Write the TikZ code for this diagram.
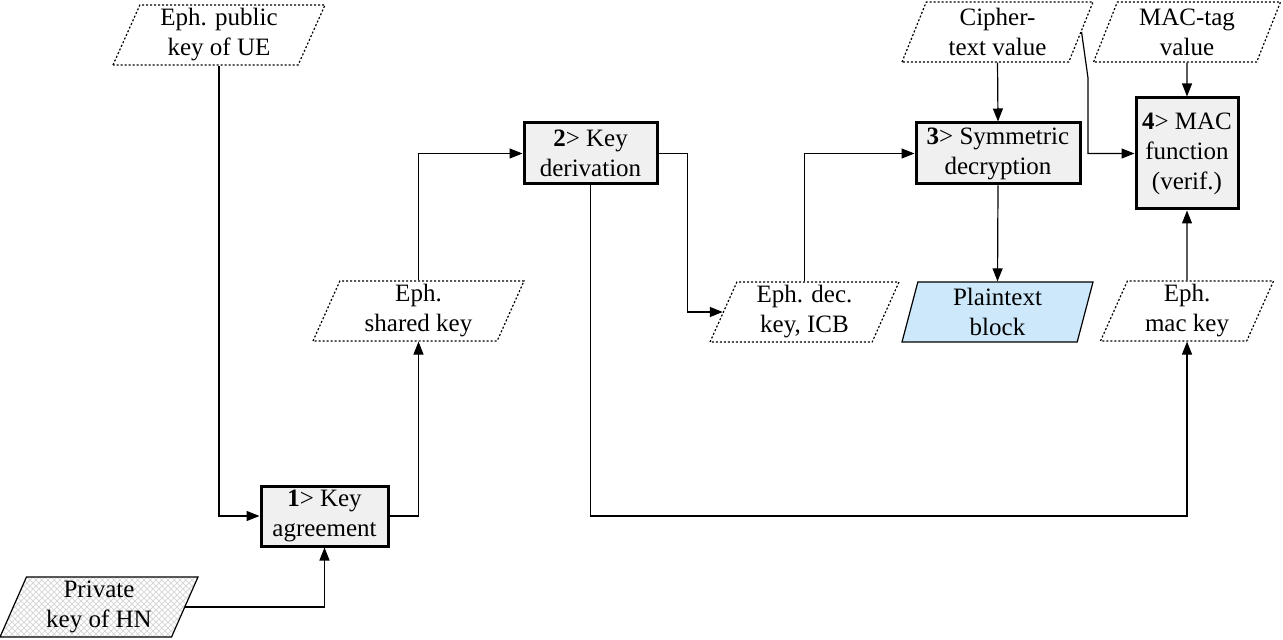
\documentclass[tikz,border=0pt]{standalone}
\usepackage{fontspec}
\setmainfont{Liberation Serif}
\usetikzlibrary{arrows.meta,shapes.geometric,patterns}
\definecolor{stepfill}{HTML}{F0F0F0}
\definecolor{plainblue}{HTML}{CCE8FA}

\begin{document}
\begin{tikzpicture}[
        x=0.5pt, y=-0.5pt,
        every node/.style={
            align=center,
            inner sep=0pt,
            font=\fontsize{12.5}{15}\selectfont
        },
        stepbox/.style={
            draw,
            line width=1.5pt,
            fill=stepfill
        },
        data/.style={
            trapezium,
            trapezium left angle=63,
            trapezium right angle=117,
            trapezium stretches body,
            minimum height=30pt,
            draw,
            line width=0.6pt,
            dash pattern=on 1pt off 1pt
        },
        line/.style={-{Triangle[length=6.5pt,width=5pt]}, line width=0.6pt}
    ]

        \useasboundingbox (0,0) rectangle (1283,640);

        % vstupy
        \node[data, minimum width=106pt] (pub) at (219,35) {Eph. public\\ key of UE};
        \node[data, minimum width=99pt, solid,
              preaction={fill=white},
              preaction={pattern=north east lines, pattern color=black!15},
              preaction={pattern=north west lines, pattern color=black!15}]
              (priv) at (99,607) {Private\\ key of HN};
        \node[data, minimum width=95.5pt] (cipher) at (997.5,32) {Cipher-\\ text value};
        \node[data, minimum width=93.5pt] (mactag) at (1187,32) {MAC-tag\\ value};

        % 1. krok
        \node[stepbox, minimum width=63.5pt, minimum height=30pt] (agree) at (324.5,516) {\textbf{1}> Key\\ agreement};
        \node[data, minimum width=105.5pt] (shared) at (418.5,311) {Eph.\\ shared key};

        % 2. krok
        \node[stepbox, minimum width=66.5pt, minimum height=30.5pt] (deriv) at (590.5,153.5) {\textbf{2}> Key\\ derivation};
        \node[data, minimum width=94.5pt] (dec) at (804.5,312) {Eph. dec.\\ key, ICB};
        \node[data, minimum width=86.5pt] (mackey) at (1187,311) {Eph.\\ mac key};

        % 3. krok
        \node[stepbox, minimum width=82pt, minimum height=30.5pt] (sym) at (998,153.5) {\textbf{3}> Symmetric\\ decryption};
        \node[data, minimum width=95.5pt, solid, fill=plainblue,
              trapezium left angle=71.6, trapezium right angle=108.4]
              (plain) at (997.5,312) {Plaintext\\ block};

        % 4. krok
        \node[stepbox, minimum width=51pt, minimum height=55.5pt] (mac) at (1187,153.5) {\textbf{4}> MAC\\ function\\ (verif.)};

        % spojnice
        \coordinate (bend) at (1088,78);

        \draw[line] (pub.south) |- (agree.west);
        \draw[line] (priv.east) -| (agree.south);
        \draw[line] (agree.east) -| (shared.south);
        \draw[line] (shared.north) |- (deriv.west);

        \draw[line] (deriv.east) -- ++(29,0) |- (dec.west);
        \draw[line] (deriv.south) -- (deriv.south |- agree) -| (mackey.south);

        \draw[line] (dec.north) |- (sym.west);
        \draw[line] (cipher.south) -- (sym.north);
        \draw[line] (sym.south) -- (plain.north);

        \draw[line] (cipher.east) -- (bend) |- (mac.west);
        \draw[line] (mactag.south) -- (mac.north);
        \draw[line] (mackey.north) -- (mac.south);

    \end{tikzpicture}
\end{document}
